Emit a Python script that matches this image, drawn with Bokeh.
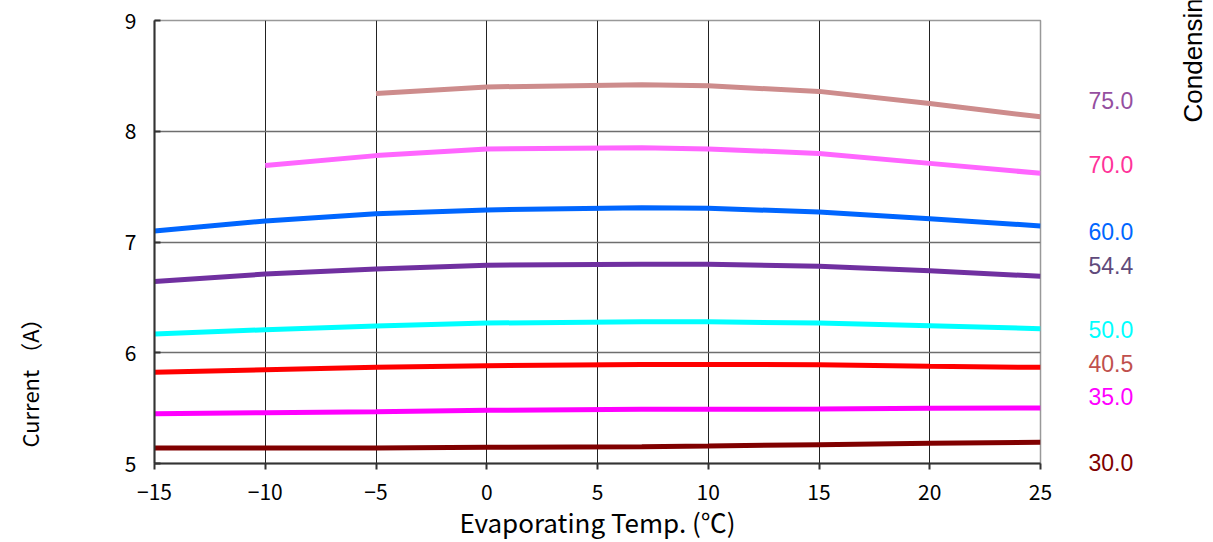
from bokeh.plotting import figure
from bokeh.layouts import row, column
from bokeh.models import Range1d, FixedTicker
from bokeh.core.properties import value
from bokeh.embed import file_html
from bokeh.resources import INLINE
import math

# ---- data ----
evap_temp = [-15, -10, -5, 0, 7, 10, 15, 20, 25]
x_ticks = [-15, -10, -5, 0, 5, 10, 15, 20, 25]
x_tick_labels = ["−15", "−10", "−5", "0", "5", "10", "15", "20", "25"]
y_ticks = [5, 6, 7, 8, 9]

cond_names = ["75.0", "70.0", "60.0", "54.4", "50.0", "40.5", "35.0", "30.0"]
cur_75 = [None, None, 8.34, 8.40, 8.42, 8.41, 8.36, 8.25, 8.13]
cur_70 = [None, 7.69, 7.78, 7.84, 7.85, 7.84, 7.80, 7.71, 7.62]
cur_60 = [7.10, 7.19, 7.255, 7.29, 7.31, 7.305, 7.27, 7.21, 7.145]
cur_544 = [6.644, 6.71, 6.757, 6.79, 6.80, 6.80, 6.78, 6.74, 6.69]
cur_50 = [6.17, 6.208, 6.241, 6.268, 6.28, 6.28, 6.268, 6.244, 6.217]
cur_405 = [5.823, 5.847, 5.868, 5.883, 5.895, 5.895, 5.892, 5.877, 5.868]
cur_35 = [5.45, 5.459, 5.468, 5.48, 5.489, 5.489, 5.492, 5.498, 5.501]
cur_30 = [5.14, 5.14, 5.14, 5.146, 5.152, 5.158, 5.17, 5.182, 5.191]
series = [cur_75, cur_70, cur_60, cur_544, cur_50, cur_405, cur_35, cur_30]

# ---- styles / layout ----
line_colors = ["#CD8C8C", "#FF66FF", "#0066FF", "#7030A0", "#00FFFF", "#FF0000", "#FF00FF", "#800000"]
label_colors = ["#954F9F", "#FF3399", "#0066FF", "#604A7B", "#00FFFF", "#C0504D", "#FF00FF", "#800000"]
label_page_y = [100, 164, 231, 265, 329, 363, 396, 462]

H = 542
LW, MW, RW = 60, 1000, 153   # left strip, main chart, right strip widths


def blank(width):
    f = figure(width=width, height=H, output_backend="svg", toolbar_location=None,
               x_range=Range1d(0, width), y_range=Range1d(0, H),
               x_axis_location=None, y_axis_location=None,
               min_border_left=0, min_border_right=0, min_border_top=0, min_border_bottom=0)
    f.grid.visible = False
    f.outline_line_color = None
    f.background_fill_color = "white"
    f.border_fill_color = "white"
    return f


# main chart
p = figure(width=MW, height=H, output_backend="svg", toolbar_location=None,
           x_range=Range1d(-15, 25), y_range=Range1d(5, 9),
           min_border_left=154 - LW, min_border_right=LW + MW - 1040,
           min_border_top=20, min_border_bottom=H - 467)
p.background_fill_color = "white"
p.border_fill_color = "white"
p.outline_line_color = "#999999"
p.outline_line_width = 1.5

p.xaxis.ticker = FixedTicker(ticks=x_ticks)
p.xaxis.major_label_overrides = dict(zip(x_ticks, x_tick_labels))
p.yaxis.ticker = FixedTicker(ticks=y_ticks)
p.xaxis.minor_tick_line_color = None
p.yaxis.minor_tick_line_color = None

for ax in (p.xaxis[0], p.yaxis[0]):
    ax.axis_line_color = "#333333"
    ax.axis_line_width = 2
    ax.major_tick_line_color = "#333333"
    ax.major_tick_line_width = 2
    ax.major_label_text_font = "Noto Sans CJK JP"
    ax.major_label_text_font_size = "21px"
    ax.major_label_text_color = "#000000"

p.xaxis.major_tick_out = 6
p.xaxis.major_tick_in = 0
p.yaxis.major_tick_out = 0
p.yaxis.major_tick_in = 6
p.xaxis.major_label_standoff = 14
p.yaxis.major_label_standoff = 18

p.xaxis.axis_label = "Evaporating Temp. (℃)"
p.xaxis.axis_label_text_font = "Noto Sans CJK JP"
p.xaxis.axis_label_text_font_size = "26px"
p.xaxis.axis_label_text_font_style = "normal"
p.xaxis.axis_label_text_color = "#000000"
p.xaxis.axis_label_standoff = 0

p.xgrid.grid_line_color = "#222222"
p.xgrid.grid_line_width = 1
p.ygrid.grid_line_color = "#6E6E6E"
p.ygrid.grid_line_width = 1.5

for ys, col in zip(series, line_colors):
    xs = [x for x, y in zip(evap_temp, ys) if y is not None]
    yv = [y for y in ys if y is not None]
    p.line(xs, yv, line_color=col, line_width=5)

# left strip: y-axis title
left = blank(LW)
left.text(x=[28], y=[H - 377], text=["Current （A）"], angle=math.pi / 2,
          text_font=value("Noto Sans CJK JP"), text_font_size="22px",
          text_align="center", text_baseline="middle", text_color="#000000")

# right strip: condensing temperature labels and title
right = blank(RW)
x0 = LW + MW
right.text(x=[1088 - x0] * len(cond_names), y=[H - py for py in label_page_y], text=cond_names,
           text_color=label_colors, text_font=value("Liberation Sans"), text_font_size="23px",
           text_align="left", text_baseline="middle")
right.text(x=[1192 - x0], y=[H - 122], text=["Condensing Temp. (℃)"], angle=math.pi / 2,
           text_font=value("Liberation Sans"), text_font_size="26px",
           text_align="left", text_baseline="middle", text_color="#000000")

layout = row(column(left), column(p), column(right), spacing=0)
open("out.html", "w").write(file_html(layout, INLINE))
